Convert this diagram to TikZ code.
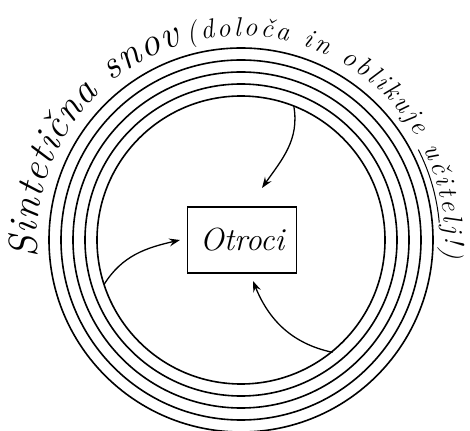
\documentclass[tikz,border=0pt]{standalone}
\usepackage{tikz}
\usetikzlibrary{arrows.meta, decorations.text}

\begin{document}
\begin{tikzpicture}[
    x=1pt, y=1pt,
    ring/.style={line width=1.6pt},
    box/.style={draw, line width=1.6pt, minimum width=109pt, minimum height=66pt, inner sep=0pt, font=\fontsize{32}{32}\selectfont\itshape},
    arrow/.style={-{Stealth[length=11pt, width=8pt, inset=4pt]}, line width=1.3pt},
    arctext/.style={decorate, decoration={text along path, text align=fit to path, #1}}
]
\useasboundingbox (-241,-190) rectangle (229,240);

% Koncentricni krogi
\foreach \r in {144,156,168,180,192}
  \draw[ring] (0,0) circle[radius=\r];

% Pravokotnik v sredini
\node[box] (otroci) at (1,0) {Otroci};

% Zacetki in konci puscic
\coordinate (top) at (68.5:144);
\coordinate (left) at (198:144);
\coordinate (low) at (-50.8:145);
\coordinate (topend) at (21,52);
\coordinate (leftend) at (-61,0);
\coordinate (lowend) at (12,-41);

% Puscice proti otrokom
\draw[arrow] (top) to[out=-80, in=55] (topend);
\draw[arrow] (left) to[out=58, in=193] (leftend);
\draw[arrow] (low) to[out=168, in=-68] (lowend);

% Napis ob krogu
\path[arctext={text={|\fontsize{40}{40}\selectfont\itshape|Sintetična snov}}]
  (185:204) arc[start angle=185, end angle=107, radius=204];
\path[arctext={text={|\fontsize{27}{27}\selectfont\itshape|(določa in oblikuje učitelj!)}}]
  (105:204) arc[start angle=105, end angle=-5, radius=204];

% Podcrtano: ucitelj
\draw[line width=1pt] (27:199) arc[start angle=27, end angle=5, radius=199];

\end{tikzpicture}
\end{document}
